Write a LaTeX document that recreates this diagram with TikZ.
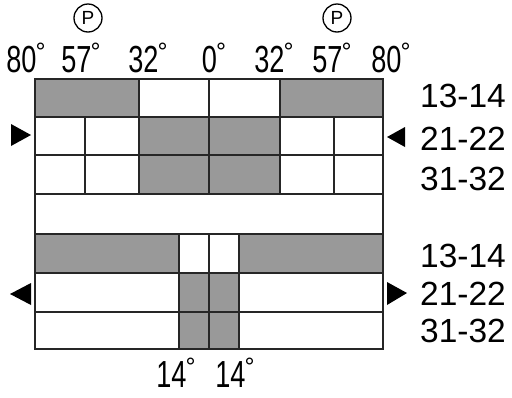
\documentclass[tikz,border=0pt]{standalone}
\usepackage{fontspec}
\setmainfont{Liberation Sans}
\newfontfamily\condfont[FakeStretch=0.72]{Liberation Sans}
\newcommand{\degsym}{{\rmfamily\fontsize{25}{25}\selectfont\kern-1pt\raisebox{12pt}{°}}}
\begin{document}
\begin{tikzpicture}[x=1pt,y=-1pt,
  shade/.style={fill=black!40},
  gridline/.style={line width=1.8pt,draw=black!85},
  toplabel/.style={font=\condfont\fontsize{37.7}{40}\selectfont,anchor=base,inner sep=0pt},
  rowlabel/.style={font=\fontsize{33.5}{36}\selectfont,anchor=base,inner sep=0pt},
  pmark/.style={circle,draw,line width=1.3pt,minimum size=28pt,inner sep=0pt,font=\fontsize{19}{20}\selectfont},
  tri/.style={fill=black}]
\useasboundingbox (0,0) rectangle (512,397);
% shaded cells
\fill[shade] (35,79) rectangle (139,117);
\fill[shade] (280,79) rectangle (383,117);
\fill[shade] (139,117) rectangle (280,194);
\fill[shade] (35,234) rectangle (179,273);
\fill[shade] (239,234) rectangle (383,273);
\fill[shade] (179,273) rectangle (239,349);
% grid lines
\draw[gridline] (35,79) rectangle (383,349);
\foreach \yy in {117,155,194,234,273,312} \draw[gridline] (35,\yy) -- (383,\yy);
\foreach \xx in {139,209,280} \draw[gridline] (\xx,79) -- (\xx,194);
\foreach \xx in {85,334} \draw[gridline] (\xx,117) -- (\xx,194);
\foreach \xx in {179,209,239} \draw[gridline] (\xx,234) -- (\xx,349);
% top angle labels
\node[toplabel] (t1) at (26,72) {80\degsym};
\node[toplabel] (t2) at (81,72) {57\degsym};
\node[toplabel] (t3) at (148,72) {32\degsym};
\node[toplabel] (t4) at (214,72) {0\degsym};
\node[toplabel] (t5) at (274,72) {32\degsym};
\node[toplabel] (t6) at (332,72) {57\degsym};
\node[toplabel] (t7) at (391,72) {80\degsym};
% P marks
\node[pmark] (p1) at (88,18) {P};
\node[pmark] (p2) at (337,18) {P};
% bottom labels
\node[toplabel] (b1) at (176,387) {14\degsym};
\node[toplabel] (b2) at (235,387) {14\degsym};
% row labels
\node[rowlabel] (r1) at (463,107) {13-14};
\node[rowlabel] (r2) at (463,150) {21-22};
\node[rowlabel] (r3) at (463,190) {31-32};
\node[rowlabel] (r4) at (463,267) {13-14};
\node[rowlabel] (r5) at (463,305) {21-22};
\node[rowlabel] (r6) at (463,342) {31-32};
% triangles
\fill[tri] (11,124) -- (11,146) -- (31,135) -- cycle;
\fill[tri] (387,137) -- (405,127) -- (405,147) -- cycle;
\fill[tri] (10,294) -- (31,283) -- (31,305) -- cycle;
\fill[tri] (387,282) -- (387,305) -- (407,293) -- cycle;
\end{tikzpicture}
\end{document}
